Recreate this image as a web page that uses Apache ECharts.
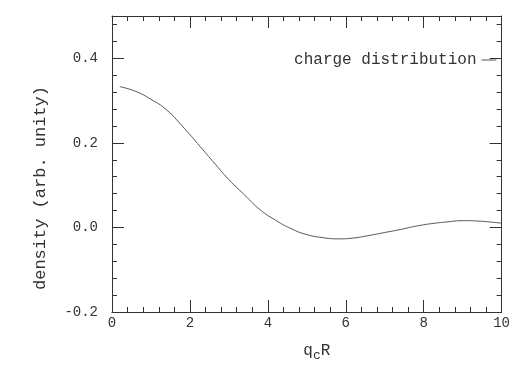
<!DOCTYPE html>
<html>
<head>
<meta charset="utf-8">
<script src="https://cdn.jsdelivr.net/npm/echarts@6/dist/echarts.min.js"></script>
<style>
html,body{margin:0;padding:0;background:#fff;}
#c{width:513px;height:367px;}
</style>
</head>
<body>
<div id="c"></div>
<script>
const xValues = [0.2, 0.6, 1.0, 1.4, 1.8, 2.2, 2.6, 3.0, 3.4, 3.8, 4.2, 4.6, 5.0, 5.4, 5.8, 6.2, 6.6, 7.0, 7.4, 7.8, 8.2, 8.6, 9.0, 9.4, 9.8, 10.0];
const densityValues = [0.333, 0.322, 0.303, 0.278, 0.240, 0.198, 0.155, 0.113, 0.077, 0.042, 0.017, -0.003, -0.017, -0.024, -0.027, -0.025, -0.019, -0.012, -0.005, 0.003, 0.009, 0.013, 0.016, 0.015, 0.012, 0.010];
const seriesName = 'charge distribution';
const yTitle = 'density (arb. unity)';

const FONT = 'Liberation Mono';
const AX = '#333';

const chart = echarts.init(document.getElementById('c'), null, {renderer: 'canvas'});

const commonX = {
  type: 'value', min: 0, max: 10, interval: 2,
  axisLine: {show: true, onZero: false, lineStyle: {color: AX, width: 1}},
  axisTick: {show: true, inside: true, length: 12, lineStyle: {color: AX}},
  minorTick: {show: true, splitNumber: 5, length: 5, lineStyle: {color: AX}},
  splitLine: {show: false}
};
const commonY = {
  type: 'value', min: -0.2, max: 0.5, interval: 0.2,
  axisLine: {show: true, onZero: false, lineStyle: {color: AX, width: 1}},
  axisTick: {show: true, inside: true, length: 12, lineStyle: {color: AX}},
  minorTick: {show: true, splitNumber: 5, length: 5, lineStyle: {color: AX}},
  splitLine: {show: false}
};

chart.setOption({
  animation: false,
  backgroundColor: '#fff',
  grid: {left: 112, right: 11, top: 16, bottom: 49},
  legend: {
    right: 11, top: 47, align: 'right',
    itemWidth: 15, itemHeight: 2, itemGap: 4,
    itemStyle: {opacity: 0},
    lineStyle: {color: '#555', width: 1},
    textStyle: {fontFamily: FONT, fontSize: 16, color: '#333'},
    data: [seriesName]
  },
  xAxis: [
    Object.assign({}, commonX, {
      position: 'bottom',
      axisLabel: {show: true, margin: 4, color: AX, fontFamily: FONT, fontSize: 14},
      name: '{q|q}{c|c}{r|R}',
      nameLocation: 'middle', nameGap: 28,
      nameTextStyle: {
        padding: [0, 0, 0, 20],
        rich: {
          q: {fontFamily: FONT, fontSize: 16, color: AX},
          c: {fontFamily: FONT, fontSize: 13, color: AX, padding: [9, 0, 0, 0]},
          r: {fontFamily: FONT, fontSize: 16, color: AX}
        }
      }
    }),
    Object.assign({}, commonX, {position: 'top', axisLabel: {show: false}})
  ],
  yAxis: [
    Object.assign({}, commonY, {
      position: 'left',
      axisLabel: {show: true, margin: 14, color: AX, fontFamily: FONT, fontSize: 14,
        formatter: v => (Math.abs(v - 0.5) < 1e-6 ? '' : v.toFixed(1))}
    }),
    Object.assign({}, commonY, {position: 'right', axisLabel: {show: false}})
  ],
  graphic: [{
    type: 'text', x: 40, y: 188, rotation: Math.PI / 2,
    style: {text: yTitle, fontFamily: FONT, fontSize: 17, fill: AX, align: 'center', verticalAlign: 'middle'}
  }],
  series: [{
    name: seriesName, type: 'line', smooth: true, symbol: 'none',
    xAxisIndex: 0, yAxisIndex: 0,
    lineStyle: {color: '#555', width: 1},
    itemStyle: {color: '#555'},
    data: xValues.map((x, i) => [x, densityValues[i]])
  }]
});
</script>
</body>
</html>
